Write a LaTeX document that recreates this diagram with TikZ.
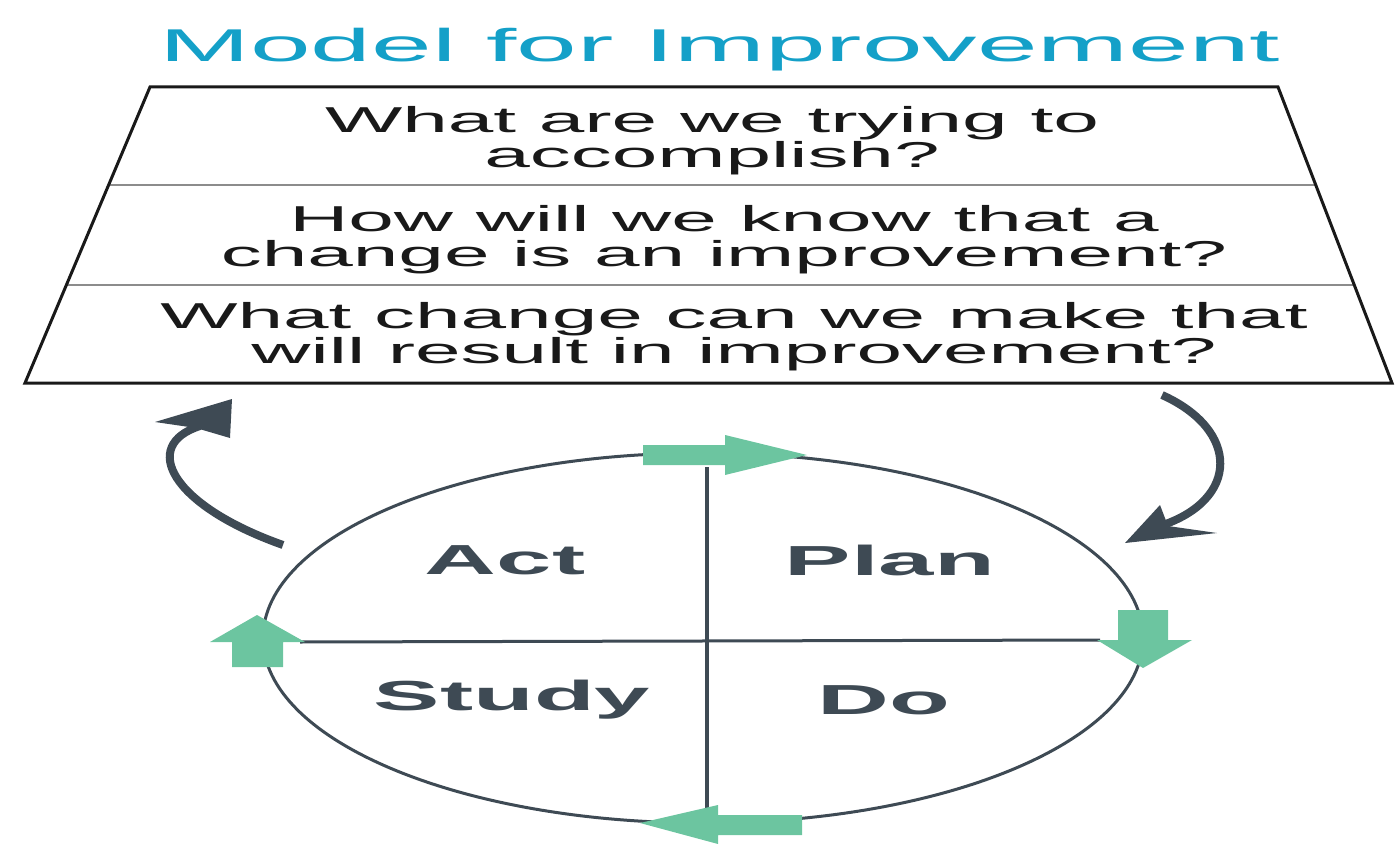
\documentclass[tikz,border=0pt]{standalone}
\usepackage{fontspec}
\setmainfont{Liberation Sans}
\usetikzlibrary{calc}
\definecolor{titleblue}{RGB}{20,160,200}
\definecolor{slateink}{RGB}{62,74,84}
\definecolor{cyclegreen}{RGB}{108,197,160}
\definecolor{rulegray}{RGB}{140,140,140}
\definecolor{textink}{RGB}{25,25,25}

\begin{document}
\begin{tikzpicture}[x=0.5pt, y=-0.5pt,
    wide/.style={xscale=2.37, inner sep=0pt},
    question/.style={wide, xscale=0.96, textink, align=center, font=\fontsize{18}{17.5}\selectfont},
    phase/.style={wide, slateink, font=\fontsize{21}{21}\selectfont\bfseries},
    greenarrow/.style={fill=cyclegreen},
    loopline/.style={draw=slateink, line width=4pt}]
    \useasboundingbox (0,0) rectangle (1395,844);

    % Title
    \node[wide, titleblue, font=\fontsize{23}{23}\selectfont] (title) at (720,50) {Model for Improvement};

    % Question trapezoid
    \coordinate (tl) at (150,87);
    \coordinate (tr) at (1278,87);
    \coordinate (br) at (1392,383);
    \coordinate (bl) at (25,383);
    \draw[rulegray, line width=1pt] ($(tl)!0.331!(bl)$) -- ($(tr)!0.331!(br)$);
    \draw[rulegray, line width=1pt] ($(tl)!0.669!(bl)$) -- ($(tr)!0.669!(br)$);
    \draw[textink, line width=1.5pt] (tl) -- (tr) -- (br) -- (bl) -- cycle;

    \node[question] (q1) at (712,141) {What are we trying to\\accomplish?};
    \node[question] (q2) at (724,240) {How will we know that a\\change is an improvement?};
    \node[question] (q3) at (734,337) {What change can we make that\\will result in improvement?};

    % PDSA cycle
    \draw[slateink, line width=1.5pt] (703,638) ellipse [x radius=440, y radius=185];
    \draw[slateink, line width=1.5pt] (300,642) -- (1100,640);
    \draw[slateink, line width=2pt] (707,467) -- (707,815);

    % Green direction arrows
    \fill[greenarrow] (643,445) -- (725,445) -- (725,435) -- (807,455) -- (725,475) -- (725,465) -- (643,465) -- cycle;
    \fill[greenarrow] (1118,610) -- (1168,610) -- (1168,640) -- (1192,640) -- (1143,668) -- (1097,640) -- (1118,640) -- cycle;
    \fill[greenarrow] (802,815) -- (718,815) -- (718,805) -- (640,823) -- (718,844) -- (718,835) -- (802,835) -- cycle;
    \fill[greenarrow] (232,667) -- (232,642) -- (210,642) -- (257,615) -- (305,642) -- (283,642) -- (283,667) -- cycle;

    \node[phase] (act) at (505,560) {Act};
    \node[phase] (plan) at (890,560) {Plan};
    \node[phase] (study) at (512,700) {Study};
    \node[phase] (do) at (884,700) {Do};

    % Loop arrows
    \draw[loopline] (283,545) .. controls (170,505) and (140,445) .. (200,426);
    \fill[slateink] (232,399) -- (155,422) -- (196,428) -- (230,438) -- cycle;
    \draw[loopline] (1162,395) .. controls (1240,430) and (1240,500) .. (1160,526);
    \fill[slateink] (1125,543) -- (1160,505) -- (1168,526) -- (1217,533) -- cycle;
\end{tikzpicture}
\end{document}
